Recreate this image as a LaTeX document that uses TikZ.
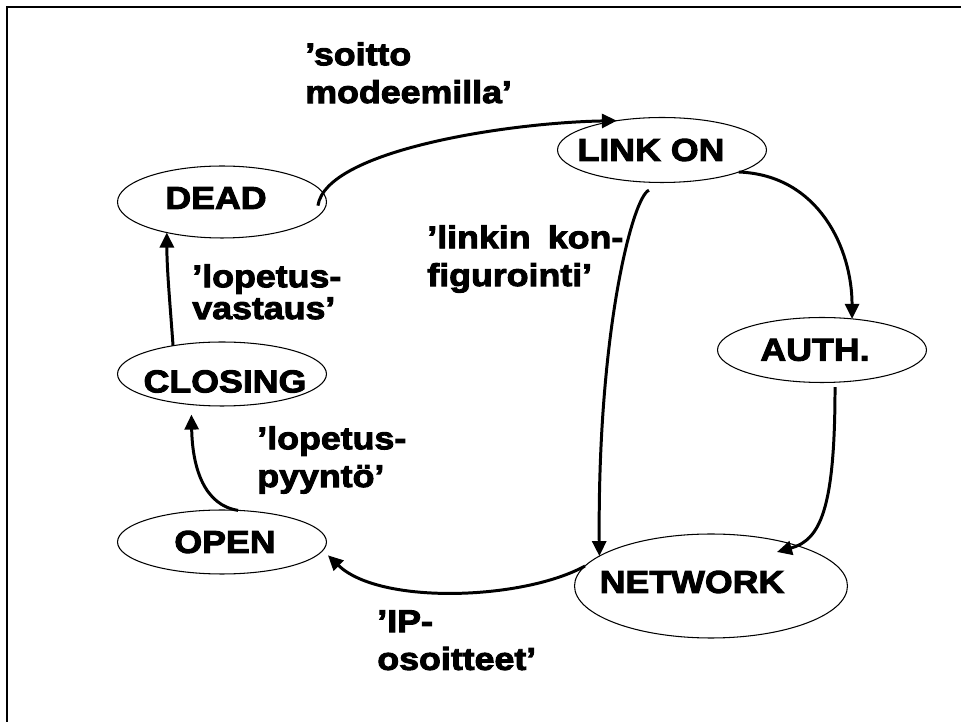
\documentclass[tikz,border=0pt]{standalone}
\usepackage{fontspec}
\newfontfamily\blackfont{Liberation Sans Bold}[FakeStretch=1.13,FakeBold=3]
\usetikzlibrary{arrows.meta}
\usetikzlibrary{shapes.geometric}

\begin{document}
\begin{tikzpicture}[
		x=0.02cm, y=-0.02cm,% one unit is one pixel of the layout
		state/.style = {ellipse, draw, line width=0.6pt,% phases of the link
			minimum width=4.18cm, minimum height=1.3cm,
			inner sep=0pt, outer sep=0pt},
		every label/.style = {font=\blackfont\fontsize{18}{21.5}\selectfont,
			inner sep=0pt},
		move/.style = {line width=1.7pt,
			-{Triangle[length=0.3cm, width=0.28cm]}},
		note/.style = {font=\blackfont\fontsize{18}{21.5}\selectfont,
			align=left, inner sep=0pt, anchor=north west},
		]
		\useasboundingbox (0,0) rectangle (961,722);
		\draw[line width=1.4pt] (7,722) -- (7,7) -- (961,7);
		% states
		\node[state, minimum height=1.44cm,
			label={[xshift=-0.12cm, yshift=0.08cm]center:DEAD}] (dead) at (222,202) {};
		\node[state, label={[xshift=-0.22cm]center:LINK ON}] (linkon) at (662,150) {};
		\node[state, label={[xshift=-0.14cm]center:AUTH.}] (auth) at (822,350) {};
		\node[state, minimum height=1.28cm,
			label={[xshift=0.06cm, yshift=-0.15cm]center:CLOSING}] (closing) at (222,374) {};
		\node[state, minimum height=1.28cm,
			label={[xshift=0.06cm]center:OPEN}] (open) at (222,542) {};
		\node[state, minimum width=5.46cm, minimum height=2.08cm,
			label={[xshift=-0.38cm, yshift=0.08cm]center:NETWORK}] (network) at (711,586) {};
		% transitions
		\draw[move] ([xshift=-0.16cm]dead.-2) .. controls +(8,-55) and +(-110,2) .. (linkon.147);
		\draw[move] (linkon.-16) .. controls +(80,3) and +(0,-70) .. (auth.46);
		\draw[move] ([yshift=-0.16cm]linkon.-112) .. controls +(-16,6) and +(-2,-225) .. (network.165);
		\draw[move] ([yshift=-0.1cm]auth.-68) .. controls +(0,123) and +(43,-12)
			.. ([xshift=1.32cm, yshift=0.68cm]network.center);
		\draw[move] (network.171) .. controls +(-62,34) and +(52,50) .. ([xshift=0.22cm]open.-8);
		\draw[move] (open.63) .. controls +(-33,-5) and +(1,55) .. ([yshift=-0.2cm]closing.-135);
		\draw[move] (closing.150) .. controls +(-3,-42) and +(0,37) .. (dead.-151);
		% labels of the transitions
		\node[note] (soitto) at (305,42) {’soitto\\modeemilla’};
		\node[note] (konf) at (427,225) {\makebox[3.92cm][s]{’linkin kon-}\\figurointi’};
		\node[note] (vastaus) at (192,264) {’lopetus-\\[-0.12cm]vastaus’};
		\node[note] (pyynto) at (257,426) {’lopetus-\\pyyntö’};
		\node[note] (ip) at (377,610) {’IP-\\osoitteet’};
	\end{tikzpicture}
\end{document}
